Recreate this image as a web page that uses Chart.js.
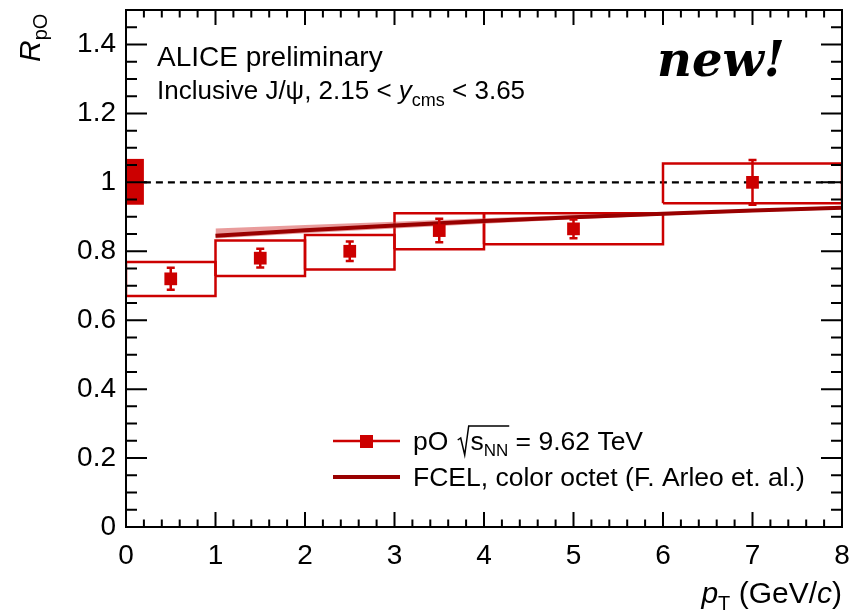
<!DOCTYPE html>
<html>
<head>
<meta charset="utf-8">
<script src="https://cdn.jsdelivr.net/npm/chart.js@4/dist/chart.umd.min.js"></script>
<style>
html, body { margin: 0; padding: 0; background: #fff; }
#wrap { width: 852px; height: 615px; }
</style>
</head>
<body>
<div id="wrap"><canvas id="chart" width="852" height="615"></canvas></div>
<script>
// data
const ptCenter = [0.5, 1.5, 2.5, 3.5, 5, 7];
const ptLow = [0, 1, 2, 3, 4, 6];
const ptHigh = [1, 2, 3, 4, 6, 8];
const rpO = [0.72, 0.78, 0.80, 0.86, 0.865, 1.0];
const statErr = [0.032, 0.027, 0.028, 0.034, 0.027, 0.065];
const systLow = [0.670, 0.728, 0.747, 0.806, 0.820, 0.939];
const systHigh = [0.769, 0.831, 0.847, 0.910, 0.910, 1.055];
const globalBoxX = [0, 0.2];
const globalBoxY = [0.935, 1.068];

const fcelPt = [1, 2, 3, 4, 5, 6, 7, 8];
const fcelMid = [0.845, 0.861, 0.875, 0.888, 0.899, 0.909, 0.918, 0.926];
const fcelUp = [0.866, 0.876, 0.886, 0.896, 0.905, 0.913, 0.921, 0.931];
const fcelLow = [0.837, 0.852, 0.866, 0.880, 0.893, 0.904, 0.914, 0.922];

const xTicks = [0, 1, 2, 3, 4, 5, 6, 7, 8];
const xTickLabels = ['0', '1', '2', '3', '4', '5', '6', '7', '8'];
const yTicks = [0, 0.2, 0.4, 0.6, 0.8, 1.0, 1.2, 1.4];
const yTickLabels = ['0', '0.2', '0.4', '0.6', '0.8', '1', '1.2', '1.4'];

const RED = '#cc0000';
const DARKRED = '#990000';
const FONT = '"Liberation Sans", Arial, sans-serif';

// datasets
const datasets = [];

datasets.push({
    label: 'points', data: ptCenter.map((x, i) => ({ x: x, y: rpO[i] })),
    showLine: false, pointStyle: 'rect', pointRadius: 9, pointHoverRadius: 9,
    backgroundColor: RED, borderColor: RED, borderWidth: 0, order: 0
});

ptCenter.forEach((x, i) => {
    datasets.push({
        label: 'syst' + i,
        data: [
            { x: ptLow[i], y: systLow[i] }, { x: ptHigh[i], y: systLow[i] },
            { x: ptHigh[i], y: systHigh[i] }, { x: ptLow[i], y: systHigh[i] },
            { x: ptLow[i], y: systLow[i] }
        ],
        showLine: true, pointRadius: 0, borderColor: RED, borderWidth: 2.5,
        fill: false, tension: 0, order: 3
    });
});

datasets.push({
    label: 'fcel', data: fcelPt.map((x, i) => ({ x: x, y: fcelMid[i] })),
    showLine: true, pointRadius: 0, borderColor: DARKRED, borderWidth: 4,
    fill: false, tension: 0, order: 1
});
datasets.push({
    label: 'fcelUp', data: fcelPt.map((x, i) => ({ x: x, y: fcelUp[i] })),
    showLine: true, pointRadius: 0, borderWidth: 0, borderColor: 'rgba(0,0,0,0)',
    backgroundColor: 'rgba(215, 75, 75, 0.55)', fill: '+1', tension: 0, order: 2
});
datasets.push({
    label: 'fcelLow', data: fcelPt.map((x, i) => ({ x: x, y: fcelLow[i] })),
    showLine: true, pointRadius: 0, borderWidth: 0, borderColor: 'rgba(0,0,0,0)',
    fill: false, tension: 0, order: 2
});

datasets.push({
    label: 'unity', data: [{ x: globalBoxX[1], y: 1 }, { x: 8, y: 1 }],
    showLine: true, pointRadius: 0, borderColor: '#000', borderWidth: 2.2,
    borderDash: [7, 5], fill: false, order: 4
});
datasets.push({
    label: 'global', data: [{ x: globalBoxX[0], y: globalBoxY[1] }, { x: globalBoxX[1], y: globalBoxY[1] }],
    showLine: true, pointRadius: 0, borderWidth: 0, borderColor: RED,
    backgroundColor: RED, fill: { value: globalBoxY[0] }, order: 5
});

function drawRich(ctx, x, y, parts, align) {
    let w = 0;
    parts.forEach(p => { ctx.font = p[1]; w += ctx.measureText(p[0]).width; });
    let cx = align === 'right' ? x - w : x;
    const pos = [];
    parts.forEach(p => {
        ctx.font = p[1];
        pos.push(cx);
        ctx.fillText(p[0], cx, y + (p[2] || 0));
        cx += ctx.measureText(p[0]).width;
    });
    return pos.concat([cx]);
}

function noPadding(s) {
    s.paddingTop = 0; s.paddingBottom = 0;
    s.paddingLeft = 0; s.paddingRight = 0;
}

const rootStyle = {
    id: 'rootStyle',
    afterDatasetsDraw(chart) {
        const ctx = chart.ctx;
        const xs = chart.scales.x, ys = chart.scales.y;
        const a = chart.chartArea;

        // stat error bars
        ctx.save();
        ctx.strokeStyle = RED;
        ctx.lineWidth = 2.5;
        ptCenter.forEach((x, i) => {
            const px = xs.getPixelForValue(x);
            const top = ys.getPixelForValue(rpO[i] + statErr[i]);
            const bot = ys.getPixelForValue(rpO[i] - statErr[i]);
            ctx.beginPath();
            ctx.moveTo(px, top); ctx.lineTo(px, bot);
            ctx.moveTo(px - 4, top); ctx.lineTo(px + 4, top);
            ctx.moveTo(px - 4, bot); ctx.lineTo(px + 4, bot);
            ctx.stroke();
        });
        ctx.restore();

        // frame and inward ticks
        ctx.save();
        ctx.strokeStyle = '#000';
        ctx.lineWidth = 2;
        ctx.strokeRect(a.left, a.top, a.right - a.left, a.bottom - a.top);
        ctx.beginPath();
        for (let v = 0; v <= 8.0001; v += 0.2) {
            const px = xs.getPixelForValue(v);
            const major = Math.abs(v - Math.round(v)) < 1e-6;
            const len = major ? 15 : 7.5;
            ctx.moveTo(px, a.bottom); ctx.lineTo(px, a.bottom - len);
            ctx.moveTo(px, a.top); ctx.lineTo(px, a.top + len);
        }
        for (let v = 0; v <= 1.5001; v += 0.05) {
            const py = ys.getPixelForValue(v);
            const major = Math.abs(v / 0.2 - Math.round(v / 0.2)) < 1e-6;
            const len = major ? 21 : 11;
            ctx.moveTo(a.left, py); ctx.lineTo(a.left + len, py);
            ctx.moveTo(a.right, py); ctx.lineTo(a.right - len, py);
        }
        ctx.stroke();
        ctx.restore();

        // texts
        ctx.save();
        ctx.fillStyle = '#000';
        ctx.textBaseline = 'alphabetic';
        ctx.textAlign = 'left';
        ctx.font = '28px ' + FONT;
        ctx.fillText('ALICE preliminary', 157, 66);
        drawRich(ctx, 157, 99, [
            ['Inclusive J/\u03c8, 2.15 < ', '26px ' + FONT],
            ['y', 'italic 26px ' + FONT],
            ['cms', '18px ' + FONT, 7],
            [' < 3.65', '26px ' + FONT]
        ]);

        ctx.font = 'italic bold 48px "DejaVu Serif", serif';
        ctx.fillText('new!', 657, 76);

        // axis titles
        drawRich(ctx, 842, 603, [
            ['p', 'italic 30px ' + FONT],
            ['T', '20px ' + FONT, 7],
            [' (GeV/', '30px ' + FONT],
            ['c', 'italic 30px ' + FONT],
            [')', '30px ' + FONT]
        ], 'right');

        ctx.save();
        ctx.translate(40, 62);
        ctx.rotate(-Math.PI / 2);
        drawRich(ctx, 0, 0, [
            ['R', 'italic 30px ' + FONT],
            ['pO', '20px ' + FONT, 7]
        ]);
        ctx.restore();

        // legend
        ctx.strokeStyle = RED;
        ctx.lineWidth = 2.5;
        ctx.beginPath();
        ctx.moveTo(333, 441); ctx.lineTo(400, 441);
        ctx.stroke();
        ctx.fillStyle = RED;
        ctx.fillRect(360, 435, 13, 13);
        ctx.strokeStyle = DARKRED;
        ctx.lineWidth = 4;
        ctx.beginPath();
        ctx.moveTo(333, 477); ctx.lineTo(400, 477);
        ctx.stroke();

        ctx.fillStyle = '#000';
        const p = drawRich(ctx, 413, 450, [
            ['pO ', '26.5px ' + FONT],
            ['  s', '26.5px ' + FONT],
            ['NN', '17px ' + FONT, 6],
            [' = 9.62 TeV', '26.5px ' + FONT]
        ]);
        // radical sign
        const rx = p[1] + 2;
        ctx.strokeStyle = '#000';
        ctx.lineWidth = 1.5;
        ctx.beginPath();
        ctx.moveTo(rx, 440);
        ctx.lineTo(rx + 3, 438);
        ctx.lineTo(rx + 7, 455);
        ctx.lineTo(rx + 11, 426);
        ctx.lineTo(p[3] + 1, 426);
        ctx.stroke();
        ctx.font = '26.5px ' + FONT;
        ctx.fillText('FCEL, color octet (F. Arleo et. al.)', 413, 486);
        ctx.restore();
    }
};

new Chart(document.getElementById('chart'), {
    type: 'scatter',
    data: { datasets: datasets },
    options: {
        responsive: false,
        animation: false,
        layout: { padding: { left: 0, right: 10, top: 10, bottom: 0 } },
        plugins: { legend: { display: false }, tooltip: { enabled: false } },
        scales: {
            x: {
                type: 'linear', min: 0, max: 8,
                grid: { display: false, drawTicks: false },
                border: { display: false },
                afterBuildTicks: s => { s.ticks = xTicks.map(v => ({ value: v })); },
                afterFit: s => { s.height = 88; noPadding(s); },
                ticks: {
                    color: '#000', padding: 12, maxRotation: 0, autoSkip: false,
                    font: { family: FONT, size: 28 },
                    callback: (v, i) => xTickLabels[i]
                }
            },
            y: {
                type: 'linear', min: 0, max: 1.5,
                grid: { display: false, drawTicks: false },
                border: { display: false },
                afterBuildTicks: s => { s.ticks = yTicks.map(v => ({ value: v })); },
                afterFit: s => { s.width = 126; noPadding(s); },
                ticks: {
                    color: '#000', padding: 10, autoSkip: false,
                    font: { family: FONT, size: 28 },
                    callback: (v, i) => yTickLabels[i]
                }
            }
        }
    },
    plugins: [rootStyle]
});
</script>
</body>
</html>
